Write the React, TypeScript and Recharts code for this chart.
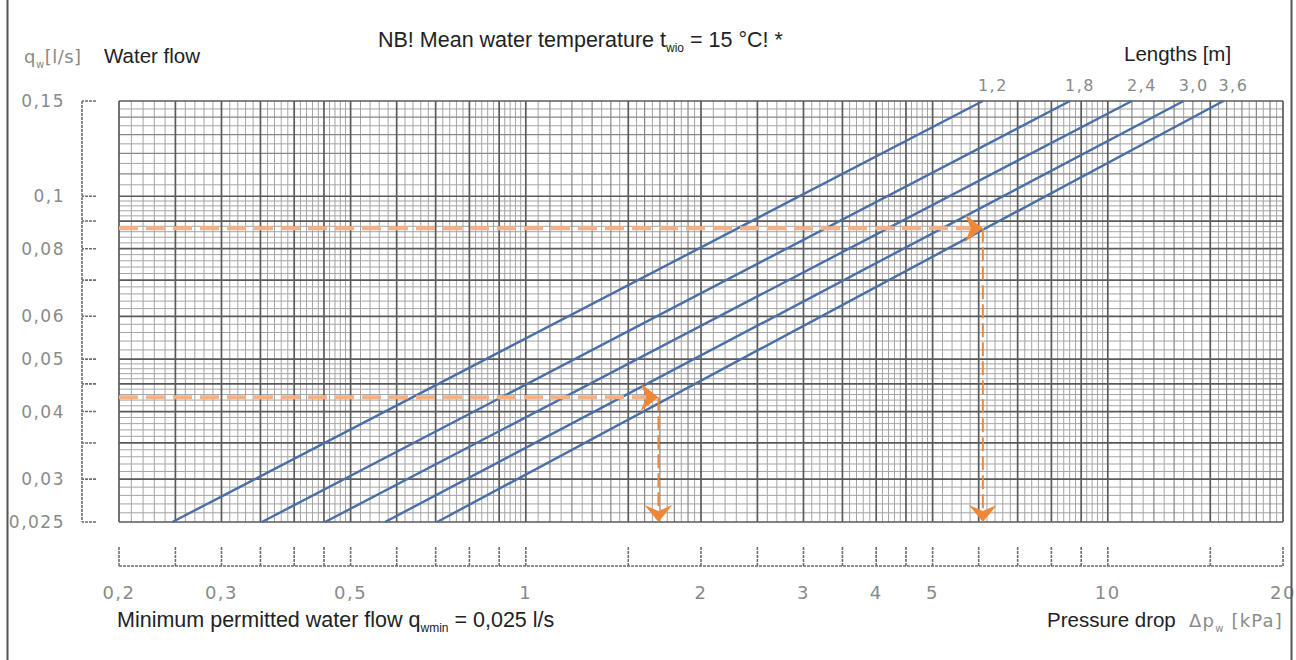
import React from 'react';
import { ComposedChart, Line, XAxis, YAxis, ReferenceLine, ReferenceDot } from 'recharts';

// ---- data ----
const lengthLabels = ['1,2', '1,8', '2,4', '3,0', '3,6'];
const dpAtMinFlow = [0.247, 0.352, 0.452, 0.573, 0.704];
const dpAtMaxFlow = [6.1, 8.61, 11.0, 13.5, 15.8];
const flowRange = [0.025, 0.15];

const exampleFlows = [0.0425, 0.0873];
const examplePressureDrops = [1.69, 6.1];

const xDomain = [0.2, 20];
const yDomain = [0.025, 0.15];

const xTickValues = [0.2, 0.25, 0.3, 0.35, 0.4, 0.45, 0.5, 0.6, 0.7, 0.8, 0.9, 1, 1.5, 2, 2.5, 3, 3.5, 4, 4.5, 5, 6, 7, 8, 9, 10, 15, 20];
const xTickLabels: Record<string, string> = { '0.2': '0,2', '0.3': '0,3', '0.5': '0,5', '1': '1', '2': '2', '3': '3', '4': '4', '5': '5', '10': '10', '20': '20' };
const yTickValues = [0.025, 0.03, 0.035, 0.04, 0.045, 0.05, 0.06, 0.07, 0.08, 0.09, 0.1, 0.15];
const yTickLabels: Record<string, string> = { '0.025': '0,025', '0.03': '0,03', '0.04': '0,04', '0.05': '0,05', '0.06': '0,06', '0.08': '0,08', '0.1': '0,1', '0.15': '0,15' };

// log-paper subdivisions: [from, to, step]
const xGridSteps = [[0.2, 0.5, 0.01], [0.5, 1, 0.02], [1, 2, 0.05], [2, 5, 0.1], [5, 10, 0.2], [10, 20, 0.5]];
const yGridSteps = [[0.025, 0.05, 0.001], [0.05, 0.1, 0.002], [0.1, 0.15, 0.005]];
const xGridMedium = [1.1, 1.2, 1.3, 1.4, 1.6, 1.7, 1.8, 1.9, 11, 12, 13, 14, 16, 17, 18, 19];
const yGridMedium = [0.11, 0.12, 0.13, 0.14];

const expand = (steps: number[][], majors: number[]) => {
  const out: number[] = [];
  steps.forEach(([a, b, s]) => {
    const n = Math.round((b - a) / s);
    for (let i = 1; i < n; i++) {
      const v = Math.round((a + i * s) * 100000) / 100000;
      if (!majors.includes(v)) out.push(v);
    }
  });
  return out;
};
const xGridMinor = expand(xGridSteps, [...xTickValues, ...xGridMedium]);
const yGridMinor = expand(yGridSteps, [...yTickValues, ...yGridMedium]);

const scanFont = "'DejaVu Sans', sans-serif";
const textFont = "'Liberation Sans', Arial, Helvetica, sans-serif";
const GRAY = '#8a8a8a';
const AXIS = '#6e6e6e';
const BLUE = '#4a6ea6';
const ORANGE_LIGHT = '#f5b186';
const ORANGE = '#ef8836';

const RightArrow = (props: any) => {
  const { cx, cy } = props;
  return <path d={`M${cx},${cy} L${cx - 18},${cy - 14} L${cx - 12},${cy} L${cx - 18},${cy + 14} Z`} fill={ORANGE} />;
};
const DownArrow = (props: any) => {
  const { cx, cy } = props;
  return <path d={`M${cx},${cy} L${cx - 14},${cy - 17} L${cx},${cy - 11} L${cx + 14},${cy - 17} Z`} fill={ORANGE} />;
};

export default function App() {
  const gx = 'g';
  const gy = 'g';
  return (
    <div style={{ position: 'absolute', left: 0, top: 0, width: 1296, height: 660, background: '#fff' }}>
      <div style={{ position: 'absolute', left: 0, top: 0 }}>
        <ComposedChart width={1296} height={660} margin={{ top: 101, right: 13, left: 0, bottom: 0 }}>
          <XAxis xAxisId="g" type="number" dataKey="dp" scale="log" domain={xDomain} height={44}
            axisLine={false} tickLine={false} tick={false} ticks={xTickValues} />
          <XAxis xAxisId="v" type="number" dataKey="dp" scale="log" domain={xDomain} allowDataOverflow height={94}
            ticks={xTickValues} interval={0} tickSize={-19} tickMargin={39}
            tickFormatter={(v: number) => xTickLabels[String(v)] ?? ''}
            axisLine={{ stroke: AXIS, strokeWidth: 1.6, strokeDasharray: '3 1' }}
            tickLine={{ stroke: AXIS, strokeWidth: 1.6, strokeDasharray: '3 1' }}
            tick={{ fill: GRAY, fontSize: 18, fontFamily: scanFont, letterSpacing: 1.5 }} />
          <YAxis yAxisId="g" type="number" scale="log" domain={yDomain} width={37}
            axisLine={false} tickLine={false} tick={false} ticks={yTickValues} />
          <YAxis yAxisId="v" type="number" scale="log" domain={yDomain} allowDataOverflow width={82}
            ticks={yTickValues} interval={0} tickSize={-14} tickMargin={31}
            tickFormatter={(v: number) => yTickLabels[String(v)] ?? ''}
            axisLine={{ stroke: AXIS, strokeWidth: 1.6, strokeDasharray: '3 1' }}
            tickLine={{ stroke: AXIS, strokeWidth: 1.6, strokeDasharray: '3 1' }}
            tick={{ fill: GRAY, fontSize: 17, fontFamily: scanFont, letterSpacing: 1.5 }} />

          {xGridMinor.map((v) => (
            <ReferenceLine key={`xm${v}`} xAxisId={gx} yAxisId={gy} x={v} stroke="#a4a4a4" strokeWidth={1} />
          ))}
          {yGridMinor.map((v) => (
            <ReferenceLine key={`ym${v}`} xAxisId={gx} yAxisId={gy} y={v} stroke="#a4a4a4" strokeWidth={1} />
          ))}
          {xGridMedium.map((v) => (
            <ReferenceLine key={`xd${v}`} xAxisId={gx} yAxisId={gy} x={v} stroke="#868686" strokeWidth={1.2} />
          ))}
          {yGridMedium.map((v) => (
            <ReferenceLine key={`yd${v}`} xAxisId={gx} yAxisId={gy} y={v} stroke="#868686" strokeWidth={1.2} />
          ))}
          {xTickValues.map((v) => (
            <ReferenceLine key={`xM${v}`} xAxisId={gx} yAxisId={gy} x={v} stroke="#5a5a5a" strokeWidth={1.7} />
          ))}
          {yTickValues.map((v) => (
            <ReferenceLine key={`yM${v}`} xAxisId={gx} yAxisId={gy} y={v} stroke="#5a5a5a" strokeWidth={1.7} />
          ))}

          {lengthLabels.map((name, i) => (
            <Line key={`len${i}`} xAxisId={gx} yAxisId={gy} type="linear" dataKey="q" name={name}
              data={[{ dp: dpAtMinFlow[i], q: flowRange[0] }, { dp: dpAtMaxFlow[i], q: flowRange[1] }]}
              stroke={BLUE} strokeWidth={2.4} dot={false} activeDot={false} isAnimationActive={false}
              label={(p: any) =>
                p.index === 1 ? (
                  <text key={`lab${i}`} x={p.x + 10} y={p.y - 10} textAnchor="middle" fill={GRAY}
                    fontSize={16} fontFamily={scanFont} letterSpacing={1.5}>{name}</text>
                ) : <g key={`lab${i}-${p.index}`} />
              } />
          ))}

          {exampleFlows.map((q, i) => (
            <Line key={`eh${i}`} xAxisId={gx} yAxisId={gy} type="linear" dataKey="q"
              data={[{ dp: xDomain[0], q }, { dp: examplePressureDrops[i], q }]}
              stroke={ORANGE_LIGHT} strokeWidth={4} strokeDasharray="19 8" dot={false} activeDot={false}
              isAnimationActive={false} />
          ))}
          {exampleFlows.map((q, i) => (
            <Line key={`ev${i}`} xAxisId={gx} yAxisId={gy} type="linear" dataKey="q"
              data={[{ dp: examplePressureDrops[i], q }, { dp: examplePressureDrops[i], q: 0.0258 }]}
              stroke={ORANGE} strokeWidth={2} strokeDasharray="14 5" dot={false} activeDot={false}
              isAnimationActive={false} />
          ))}
          {exampleFlows.map((q, i) => (
            <ReferenceDot key={`ar${i}`} xAxisId={gx} yAxisId={gy} x={examplePressureDrops[i]} y={q}
              ifOverflow="visible" shape={RightArrow} />
          ))}
          {exampleFlows.map((q, i) => (
            <ReferenceDot key={`ad${i}`} xAxisId={gx} yAxisId={gy} x={examplePressureDrops[i]} y={yDomain[0]}
              ifOverflow="visible" shape={DownArrow} />
          ))}
        </ComposedChart>
      </div>
      <svg width={1296} height={660} style={{ position: 'absolute', left: 0, top: 0, pointerEvents: 'none' }}>
        <line x1={7.5} y1={0} x2={7.5} y2={660} stroke="#555" strokeWidth={2} />
        <line x1={1291.5} y1={0} x2={1291.5} y2={660} stroke="#555" strokeWidth={2} />
        <text x={378} y={47} fontSize={21.5} fontFamily={textFont} fill="#222">
          NB! Mean water temperature t<tspan fontSize={12} dy={5}>wio</tspan><tspan dy={-5}> = 15 °C! *</tspan>
        </text>
        <text x={24} y={63} fontSize={18} fontFamily={scanFont} fill={GRAY} letterSpacing={0.5}>
          q<tspan fontSize={10} dy={5}>w</tspan><tspan dy={-5}>[l/s]</tspan>
        </text>
        <text x={104} y={63} fontSize={20.5} fontFamily={textFont} fill="#222">Water flow</text>
        <text x={1124} y={61} fontSize={20.5} fontFamily={textFont} fill="#222">Lengths [m]</text>
        <text x={117} y={627} fontSize={21.5} fontFamily={textFont} fill="#222">
          Minimum permitted water flow q<tspan fontSize={12} dy={5}>wmin</tspan><tspan dy={-5}> = 0,025 l/s</tspan>
        </text>
        <text x={1047} y={627} fontSize={20.5} fontFamily={textFont} fill="#222">Pressure drop</text>
        <text x={1189} y={627} fontSize={18} fontFamily={scanFont} fill={GRAY} letterSpacing={1.2}>
          Δp<tspan fontSize={10} dy={5}>w</tspan><tspan dy={-5}> [kPa]</tspan>
        </text>
      </svg>
    </div>
  );
}
